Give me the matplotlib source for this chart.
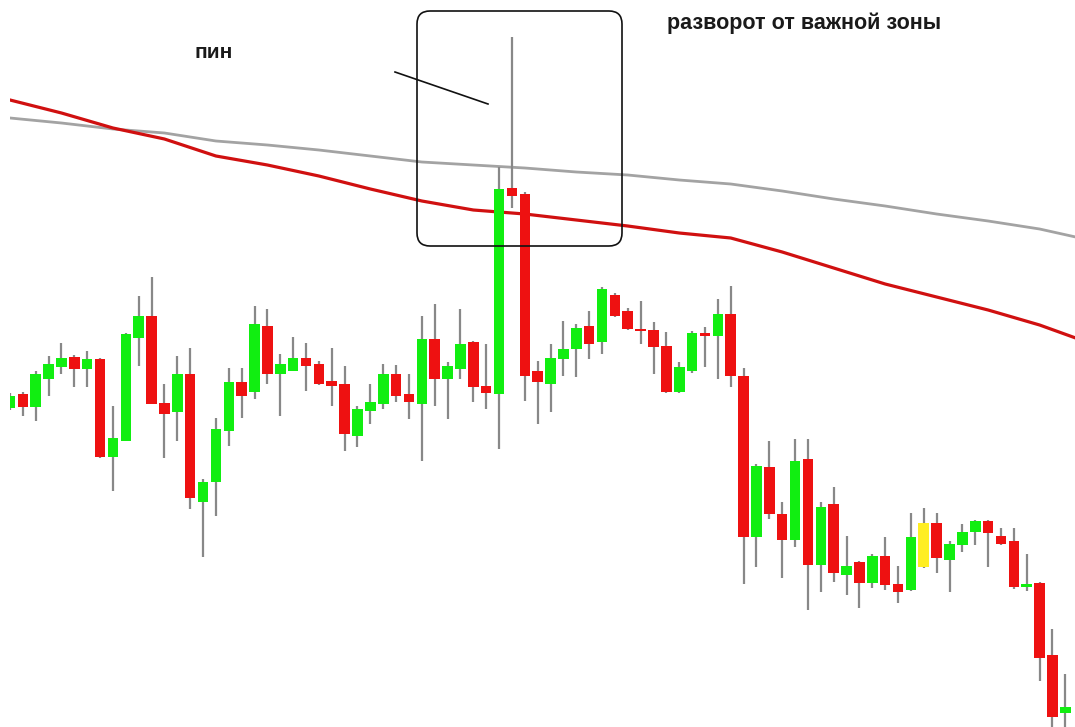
import matplotlib.pyplot as plt
from matplotlib.patches import FancyBboxPatch
from matplotlib.lines import Line2D
import numpy as np

# Свечи (уровни цены в условных пунктах)
opens = [319, 333, 320, 348, 360, 370, 358, 368, 270, 286, 389, 411, 324, 315, 353, 225, 245, 296, 345, 335,
         401, 353, 356, 369, 363, 346, 343, 291, 316, 323, 353, 333, 323, 388, 348, 358, 385, 341, 333, 539,
         533, 356, 343, 368, 378, 401, 385, 432, 416, 398, 397, 381, 335, 356, 394, 391, 413, 351, 190, 260,
         213, 187, 268, 162, 223, 152, 165, 144, 171, 143, 137, 160, 204, 167, 182, 195, 206, 191, 186, 140,
         144, 72, 14]
highs = [334, 335, 356, 371, 384, 372, 376, 369, 321, 394, 431, 450, 343, 371, 379, 248, 309, 359, 359, 421,
         418, 373, 390, 384, 366, 379, 361, 321, 343, 363, 362, 353, 411, 423, 365, 418, 386, 383, 560, 690,
         535, 366, 383, 406, 403, 416, 440, 434, 419, 426, 405, 395, 365, 396, 400, 428, 441, 359, 263, 286,
         225, 288, 288, 225, 240, 191, 166, 173, 190, 161, 214, 219, 214, 186, 203, 207, 207, 199, 199, 173,
         145, 98, 53]
lows = [317, 311, 306, 331, 353, 340, 340, 269, 236, 286, 361, 323, 269, 286, 218, 170, 211, 281, 309, 328,
        343, 311, 356, 336, 342, 321, 276, 280, 303, 318, 325, 308, 266, 321, 308, 348, 325, 318, 278, 519,
        326, 303, 315, 351, 350, 368, 373, 410, 397, 383, 353, 334, 334, 354, 360, 348, 340, 143, 160, 208,
        149, 180, 117, 135, 145, 132, 119, 139, 137, 124, 136, 159, 154, 135, 175, 182, 160, 182, 138, 136,
        46, -8, -8]
closes = [331, 320, 353, 363, 369, 358, 368, 270, 289, 393, 411, 323, 313, 353, 229, 245, 298, 345, 331, 403,
          353, 363, 369, 361, 343, 341, 293, 318, 325, 353, 331, 325, 388, 348, 361, 383, 340, 334, 538, 531,
          351, 345, 369, 378, 399, 383, 438, 411, 398, 396, 380, 335, 360, 394, 391, 413, 351, 190, 261, 213,
          187, 266, 162, 220, 154, 161, 144, 171, 142, 135, 190, 204, 169, 183, 195, 206, 194, 183, 140, 143,
          69, 10, 20]
yellow_bar = 71

# Скользящие средние (каждые 4 свечи)
ma_idx = [0, 4, 8, 12, 16, 20, 24, 28, 32, 36, 40, 44, 48, 52, 56, 60, 64, 68, 72, 76, 80, 82.8]
ma_red = [627, 614, 599, 588, 571, 562, 551, 538, 526, 517, 513, 507, 501, 494, 489, 475, 459, 443, 430,
          417, 402, 389]
ma_gray = [609, 604, 598, 594, 586, 582, 577, 571, 565, 562, 559, 555, 552, 547, 543, 536, 528, 521, 513,
           506, 498, 490]

fig = plt.figure(figsize=(10.75, 7.27), dpi=100)
ax = fig.add_axes([10 / 1075, 0, 1065 / 1075, 1])
ax.set_xlim(0, 82.75)
ax.set_ylim(0, 727)
ax.axis('off')

# Линии средних
ax.plot(ma_idx, ma_gray, color='#a3a3a3', lw=2.0, zorder=1)
ax.plot(ma_idx, ma_red, color='#d01010', lw=2.3, zorder=1)

# Свечи
x = np.arange(len(opens))
o = np.array(opens)
c = np.array(closes)
ax.vlines(x, lows, highs, color='#888888', lw=1.6, zorder=2)
colors = ['#11ee11' if cc >= oo else '#ee1111' for oo, cc in zip(o, c)]
colors[yellow_bar] = '#ffee22'
bottoms = np.minimum(o, c)
heights = np.maximum(np.abs(c - o), 2)
ax.bar(x, heights, bottom=bottoms, width=0.82, color=colors, zorder=3)

# Рамка вокруг пина
box = FancyBboxPatch((4.17, 4.81), 2.05, 2.35, boxstyle='round,pad=0,rounding_size=0.13',
                     transform=fig.dpi_scale_trans, fill=False, edgecolor='#111111', lw=1.2, zorder=5)
fig.patches.append(box)
fig.lines.append(Line2D([3.95, 4.88], [6.55, 6.23], transform=fig.dpi_scale_trans,
                        color='#111111', lw=1.2))

fig.text(195 / 1075, 1 - 52 / 727, 'пин', fontsize=15, fontweight='bold', color='#1a1a1a',
         family='Liberation Sans', va='center', ha='left')
fig.text(667 / 1075, 1 - 23 / 727, 'разворот от важной зоны', fontsize=15.5, fontweight='bold',
         color='#1a1a1a', family='Liberation Sans', va='center', ha='left')

fig.savefig('out.png', dpi=100)
